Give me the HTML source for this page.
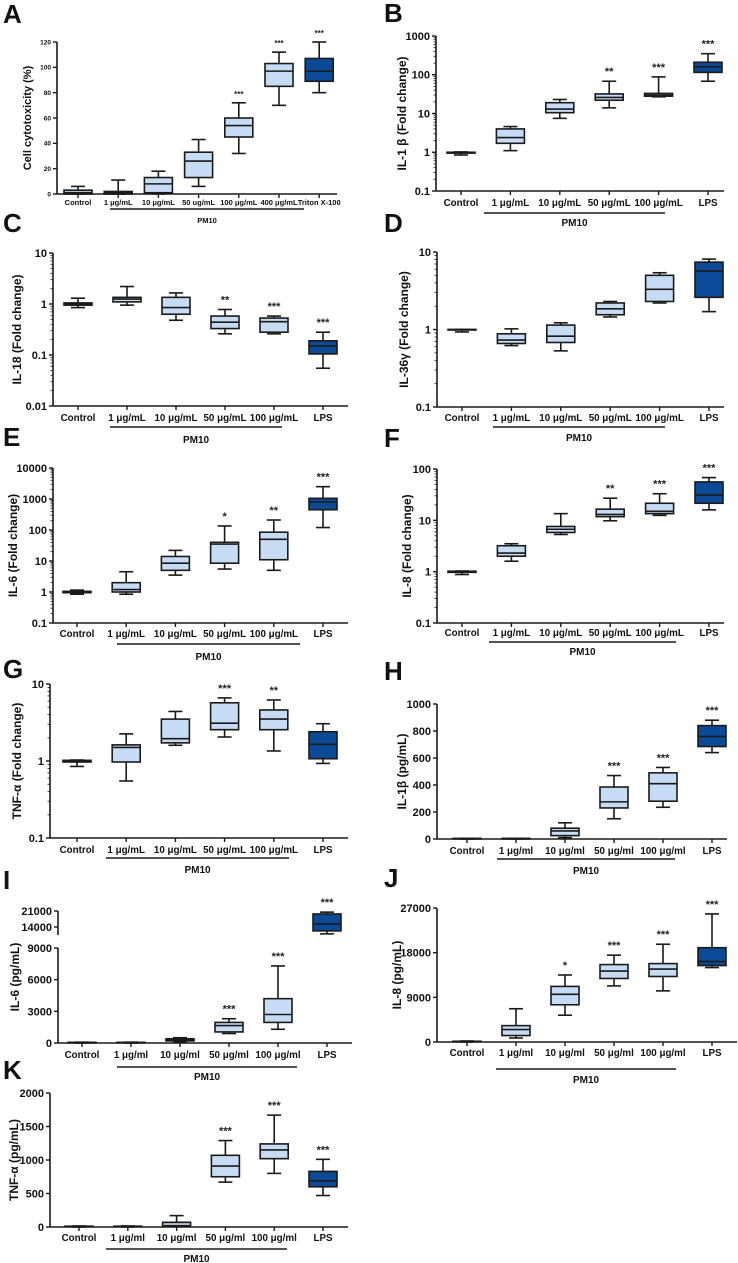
<!DOCTYPE html>
<html><head><meta charset="utf-8"><style>
html,body{margin:0;padding:0;background:#fff}
svg{display:block;font-family:"Liberation Sans",Arial,sans-serif}
</style></head><body>
<svg id="fig" width="738" height="1263" viewBox="0 0 738 1263" xmlns="http://www.w3.org/2000/svg"></svg>
<script>
// ---- data ----
const catsA = ["Control","1 μg/mL","10 μg/mL","50 ug/mL","100 μg/mL","400 μg/mL","Triton X-100"];
const catsFold = ["Control","1 μg/mL","10 μg/mL","50 μg/mL","100 μg/mL","LPS"];
const catsPg = ["Control","1 μg/ml","10 μg/ml","50 μg/ml","100 μg/ml","LPS"];
// each entry: [whiskerLow, q1, median, q3, whiskerHigh]
const dataA = [[0,0,1,3,6],[0,0,1,2,11],[0,1,8,13,18],[6,13,26,33,43],[32,45,54,60,72],[70,85,97,103,112],[80,89,97,107,120]];
const starsA = ["","","","","***","***","***"];
const dataB = [[0.85,0.95,1,1,1.02],[1.1,1.7,2.4,4,4.6],[7.5,10.5,13,19,23],[14,22,26,32,68],[27,28,30,33,88],[68,115,160,210,350]];
const starsB = ["","","","**","***","***"];
const dataC = [[0.85,0.95,1,1.05,1.3],[0.95,1.1,1.25,1.35,2.2],[0.48,0.63,0.85,1.35,1.65],[0.26,0.33,0.44,0.58,0.78],[0.26,0.28,0.45,0.53,0.58],[0.055,0.105,0.15,0.19,0.28]];
const starsC = ["","","","**","***","***"];
const dataD = [[0.93,1,1,1,1],[0.62,0.66,0.73,0.88,1.02],[0.53,0.68,0.82,1.14,1.22],[1.45,1.55,1.85,2.2,2.3],[2.2,2.3,3.3,5,5.4],[1.7,2.6,5.7,7.4,8.1]];
const starsD = ["","","","","",""];
const dataE = [[0.85,0.95,1,1.05,1.15],[0.85,1,1.2,2,4.5],[3.5,5,8.5,14,22],[5.5,8.5,35,40,135],[5,11,50,85,210],[120,450,800,1050,2500]];
const starsE = ["","","","*","**","***"];
const dataF = [[0.88,0.97,1,1.02,1.03],[1.6,2,2.3,3.2,3.5],[5.3,5.8,6.7,7.6,13.5],[9.8,11.8,13,16.5,27],[12.5,13.5,15,21.5,33],[16,21.5,31,56,68]];
const starsF = ["","","","**","***","***"];
const dataG = [[0.85,0.97,1,1.02,1.03],[0.55,0.97,1.5,1.62,2.25],[1.6,1.72,1.95,3.5,4.4],[2.05,2.55,3.1,5.7,6.6],[1.35,2.55,3.5,4.6,6.2],[0.93,1.07,1.65,2.4,3.05]];
const starsG = ["","","","***","**",""];
const dataH = [[0,2,3,4,5],[0,2,3,4,5],[10,25,60,80,120],[150,230,275,385,470],[235,280,410,490,530],[640,685,760,840,880]];
const starsH = ["","","","***","***","***"];
const dataI = [[0,20,40,60,80],[0,20,40,60,80],[100,200,300,400,500],[900,1050,1650,1950,2300],[1300,1950,2700,4200,7300],[11000,12300,15300,19700,20500]];
const starsI = ["","","","***","***","***"];
const dataJ = [[0,50,100,150,200],[800,1300,2500,3300,6700],[5400,7500,9600,11200,13500],[11300,12800,14300,15600,17500],[10300,13200,14700,15800,19700],[15000,15400,16200,19000,25800]];
const starsJ = ["","","*","***","***","***"];
const dataK = [[0,5,10,12,15],[0,5,10,12,15],[10,20,70,70,170],[670,750,910,1070,1290],[800,1020,1150,1240,1670],[470,600,690,830,1010]];
const starsK = ["","","","***","***","***"];
const ticksA = [0,20,40,60,80,100,120];
const ticksH = [0,200,400,600,800,1000];
const ticksI = [0,3000,6000,9000];
const ticksIUpper = [14000,21000];
const ticksJ = [0,9000,18000,27000];
const ticksK = [0,500,1000,1500,2000];

const NS="http://www.w3.org/2000/svg";
const svg=document.getElementById('fig');
function mk(tag,attrs,parent,text){const e=document.createElementNS(NS,tag);for(const k in attrs)e.setAttribute(k,attrs[k]);if(text!==undefined)e.textContent=text;(parent||svg).appendChild(e);return e;}
const LIGHT="#c6dcf4",DARK="#0b4a96",INK="#1a1a1a";

function linScale(min,max,yB,yT){return v=>yB-(v-min)/(max-min)*(yB-yT);}
function logScale(min,max,yB,yT){const a=Math.log10(min),b=Math.log10(max);return v=>yB-(Math.log10(v)-a)/(b-a)*(yB-yT);}

function panel(p){
  const g=mk('g',{});
  
  
  const L=mk('text',{x:p.lx,y:p.ly,'font-size':26,'font-weight':'bold',fill:'#111'},g,p.id);
  
  
  const ys=p.y;
  const yax=mk('line',{x1:p.x0,x2:p.x0,y1:p.yT,y2:p.yB,stroke:INK,'stroke-width':1.6},g);
  
  
  if(p.upper){
    const u=mk('line',{x1:p.x0,x2:p.x0,y1:p.upper.yT,y2:p.upper.yB,stroke:INK,'stroke-width':1.6},g);
    
    
  }
  const xax=mk('line',{x1:p.x0,x2:p.x1,y1:p.yB,y2:p.yB,stroke:INK,'stroke-width':1.6},g);
  
  
  const tfs=p.tfs||11;
  p.ticks.forEach(v=>{
    const y=ys(v);
    mk('line',{x1:p.x0-4,x2:p.x0,y1:y,y2:y,stroke:INK,'stroke-width':1.4},g);
    const t=mk('text',{x:p.x0-6,y:y+tfs*0.36,'font-size':tfs,'font-weight':'bold','text-anchor':'end',fill:'#111'},g,String(v));
    
    
  });
  if(p.log){
    for(let d=0;d<p.ticks.length-1;d++){
      for(let m=2;m<10;m++){const v=p.ticks[d]*m;const y=ys(v);mk('line',{x1:p.x0-2.5,x2:p.x0,y1:y,y2:y,stroke:INK,'stroke-width':0.8},g);}
    }
  }
  const topY=p.upper?p.upper.yT:p.yT;
  const mid=(topY+p.yB)/2;
  const yt=mk('text',{x:p.tx,y:mid,'font-size':p.tfs2||12,'font-weight':'bold','text-anchor':'middle',fill:'#111',transform:`rotate(-90 ${p.tx} ${mid})`,dy:'0.35em'},g,p.title);
  
  
  const cx=i=>p.c0+i*p.step;
  const bw=p.bw||28;
  p.cats.forEach((c,i)=>{
    const x=cx(i);
    mk('line',{x1:x,x2:x,y1:p.yB,y2:p.yB+4,stroke:INK,'stroke-width':1.4},g);
    const t=mk('text',{x:x,y:p.labY,'font-size':p.lfs||9.8,'font-weight':'bold','text-anchor':'middle',fill:'#111'},g,c);
    
    
    const d=p.data[i];
    const [wl,q1,md,q3,wh]=d.map(ys);
    const bg=mk('g',{},g);
    
    
    const dark=(i===p.cats.length-1)&&p.lastDark;
    mk('line',{x1:x,x2:x,y1:wh,y2:q3,stroke:INK,'stroke-width':1.6},bg);
    mk('line',{x1:x,x2:x,y1:q1,y2:wl,stroke:INK,'stroke-width':1.6},bg);
    mk('line',{x1:x-7,x2:x+7,y1:wh,y2:wh,stroke:INK,'stroke-width':1.6},bg);
    mk('line',{x1:x-7,x2:x+7,y1:wl,y2:wl,stroke:INK,'stroke-width':1.6},bg);
    mk('rect',{x:x-bw/2,y:q3,width:bw,height:Math.max(q1-q3,0.5),fill:dark?DARK:LIGHT,stroke:INK,'stroke-width':1.6},bg);
    mk('line',{x1:x-bw/2,x2:x+bw/2,y1:md,y2:md,stroke:INK,'stroke-width':1.6},bg);
    if(p.stars[i]){
      const s=mk('text',{x:x,y:wh-6,'font-size':p.sfs||11,'font-weight':'bold','text-anchor':'middle',fill:'#222'},g,p.stars[i]);
      
      
    }
  });
  const bl=mk('line',{x1:p.pm[0],x2:p.pm[1],y1:p.pm[2],y2:p.pm[2],stroke:INK,'stroke-width':1.4},g);
  
  
  const pt=mk('text',{x:(p.pm[0]+p.pm[1])/2,y:p.pm[3],'font-size':p.lfs||10,'font-weight':'bold','text-anchor':'middle',fill:'#111'},g,'PM10');
  
  
}

function scaleI(v){ if(v<=9000) return 1043-(v/9000)*(1043-948); return 927-(v-14000)*16/7000; }

panel({id:'A',lx:3,ly:23,x0:57,x1:337,yT:42,yB:194,y:linScale(0,120,194,42),ticks:ticksA,tfs:6.5,title:'Cell cytotoxicity (%)',tx:27,tfs2:11,cats:catsA,c0:78,step:40.2,bw:28,labY:205,lfs:7.5,sfs:8,data:dataA,stars:starsA,lastDark:true,pm:[110,304,209,223]});
panel({id:'B',lx:384,ly:22,x0:436,x1:724,yT:36,yB:191,y:logScale(0.1,1000,191,36),log:true,ticks:[0.1,1,10,100,1000],title:'IL-1 β (Fold change)',tx:402,cats:catsFold,c0:461,step:49.4,labY:206,data:dataB,stars:starsB,lastDark:true,pm:[484,665,213,226]});
panel({id:'C',lx:3,ly:232,x0:53,x1:348,yT:253,yB:406,y:logScale(0.01,10,406,253),log:true,ticks:[0.01,0.1,1,10],title:'IL-18 (Fold change)',tx:17,cats:catsFold,c0:78,step:49,labY:421,data:dataC,stars:starsC,lastDark:true,pm:[110,282,427,443]});
panel({id:'D',lx:384,ly:232,x0:437,x1:724,yT:252,yB:407,y:logScale(0.1,10,407,252),log:true,ticks:[0.1,1,10],title:'IL-36γ (Fold change)',tx:404,cats:catsFold,c0:462,step:49.4,labY:421,data:dataD,stars:starsD,lastDark:true,pm:[493,665,427,441]});
panel({id:'E',lx:3,ly:446,x0:53,x1:348,yT:468,yB:623,y:logScale(0.1,10000,623,468),log:true,ticks:[0.1,1,10,100,1000,10000],title:'IL-6 (Fold change)',tx:13,cats:catsFold,c0:77,step:49.2,labY:637,data:dataE,stars:starsE,lastDark:true,pm:[117,300,644,660]});
panel({id:'F',lx:384,ly:447,x0:437,x1:724,yT:469,yB:623,y:logScale(0.1,100,623,469),log:true,ticks:[0.1,1,10,100],title:'IL-8 (Fold change)',tx:407,cats:catsFold,c0:462,step:49.4,labY:636,data:dataF,stars:starsF,lastDark:true,pm:[489,676,642,655]});
panel({id:'G',lx:3,ly:678,x0:50,x1:348,yT:684,yB:838,y:logScale(0.1,10,838,684),log:true,ticks:[0.1,1,10],title:'TNF-α (Fold change)',tx:17,cats:catsFold,c0:77,step:49.2,labY:853,data:dataG,stars:starsG,lastDark:true,pm:[106,289,858,873]});
panel({id:'H',lx:384,ly:680,x0:437,x1:727,yT:704,yB:839,y:linScale(0,1000,839,704),ticks:ticksH,title:'IL-1β (pg/mL)',tx:402,cats:catsPg,c0:467,step:49,labY:854,data:dataH,stars:starsH,lastDark:true,pm:[497,675,859,874]});
panel({id:'I',lx:3,ly:889,x0:58,x1:352,yT:948,yB:1043,y:scaleI,ticks:ticksI,upper:{yT:911,yB:935},title:'IL-6 (pg/mL)',tx:15,cats:catsPg,c0:82,step:49,labY:1058,data:dataI,stars:starsI,lastDark:true,pm:[117,297,1067,1080]});
panel({id:'J',lx:384,ly:887,x0:437,x1:737,yT:908,yB:1042,y:linScale(0,27000,1042,908),ticks:ticksJ,title:'IL-8 (pg/mL)',tx:397,cats:catsPg,c0:467,step:49,labY:1056,data:dataJ,stars:starsJ,lastDark:true,pm:[496,676,1069,1083]});
panel({id:'K',lx:3,ly:1079,x0:50,x1:348,yT:1093,yB:1227,y:linScale(0,2000,1227,1093),ticks:ticksK,title:'TNF-α (pg/mL)',tx:14,cats:catsPg,c0:79,step:48.8,labY:1241,data:dataK,stars:starsK,lastDark:true,pm:[106,287,1249,1262]});

ticksIUpper.forEach(v=>{
  const y=scaleI(v);
  mk('line',{x1:54,x2:58,y1:y,y2:y,stroke:INK,'stroke-width':1.4});
  const t=mk('text',{x:52,y:y+4,'font-size':11,'font-weight':'bold','text-anchor':'end',fill:'#111'},svg,String(v));
  
  
});
</script>
</body></html>
